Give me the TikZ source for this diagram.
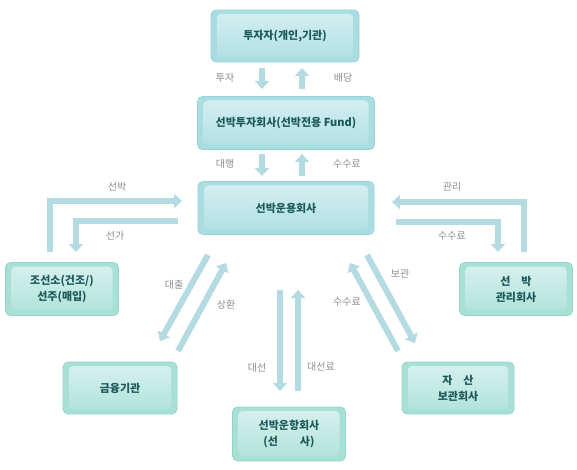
\documentclass[tikz,border=0pt]{standalone}
\usepackage{fontspec}
\setmainfont{Noto Sans CJK KR}
\usetikzlibrary{arrows.meta,calc}
\definecolor{arrowc}{HTML}{B4DAE2}
\definecolor{boxborder}{HTML}{93D5CA}
\definecolor{boxfill}{HTML}{A9E0D6}
\definecolor{boxtop}{HTML}{D9F1EE}
\definecolor{boxbot}{HTML}{AEE2D9}
\definecolor{bboxborder}{HTML}{97D2D8}
\definecolor{bboxfill}{HTML}{AADDE1}
\definecolor{bboxtop}{HTML}{D6EFF1}
\definecolor{bboxbot}{HTML}{AEDFE3}
\definecolor{boxtext}{HTML}{1C5A5A}
\definecolor{lbl}{HTML}{8C8C8C}
\tikzset{
  box/.style={draw=boxborder, line width=0.8pt, fill=boxfill, rounded corners=5pt,
    inner sep=0pt, align=center, text=boxtext, font=\fontsize{11}{16}\selectfont\bfseries,
    path picture={\shade[top color=boxtop, bottom color=boxbot, rounded corners=4pt]
      ([shift={(6pt,-4pt)}]path picture bounding box.north west) rectangle
      ([shift={(-6pt,5pt)}]path picture bounding box.south east);}},
  bbox/.style={box, draw=bboxborder, fill=bboxfill,
    path picture={\shade[top color=bboxtop, bottom color=bboxbot, rounded corners=4pt]
      ([shift={(6pt,-4pt)}]path picture bounding box.north west) rectangle
      ([shift={(-6pt,5pt)}]path picture bounding box.south east);}},
  arr/.style={draw=arrowc, line width=6pt, line join=miter,
    -{Triangle[width=14pt,length=8pt]}},
  lab/.style={text=lbl, font=\fontsize{10}{11}\selectfont, inner sep=0pt}
}
\begin{document}
\begin{tikzpicture}[x=1pt,y=-1pt]
\useasboundingbox (0,0) rectangle (577,470);
% boxes
\node[bbox, minimum width=148pt, minimum height=52pt] (inv) at (285,36) {투자자(개인,기관)};
\node[bbox, minimum width=177pt, minimum height=53pt] (fund) at (286,123) {선박투자회사(선박전용 Fund)};
\node[bbox, minimum width=176pt, minimum height=53pt] (mgr) at (286,208) {선박운용회사};
\node[box, minimum width=113pt, minimum height=53pt] (yard) at (62,289) {조선소(건조/)\\선주(매입)};
\node[box, minimum width=113pt, minimum height=53pt] (smc) at (516,289) {선\quad 박\\관리회사};
\node[box, minimum width=114pt, minimum height=52pt] (bank) at (120,388) {금융기관};
\node[box, minimum width=113pt, minimum height=54pt] (opr) at (289,434) {선박운항회사\\(선\quad\quad 사)};
\node[box, minimum width=112pt, minimum height=52pt] (cust) at (458,388) {자\quad 산\\보관회사};
% coordinates
\coordinate (a1s) at (262,68); \coordinate (a1e) at (262,89);
\coordinate (a2s) at (302,89); \coordinate (a2e) at (302,68);
\coordinate (b1s) at (262,154); \coordinate (b1e) at (262,176);
\coordinate (b2s) at (302,176); \coordinate (b2e) at (302,154);
\coordinate (c1s) at (50,252); \coordinate (c1m) at (50,201); \coordinate (c1e) at (182,201);
\coordinate (c2s) at (178,221); \coordinate (c2m) at (76,221); \coordinate (c2e) at (76,252);
\coordinate (d1s) at (524,252); \coordinate (d1m) at (524,202); \coordinate (d1e) at (392,202);
\coordinate (d2s) at (396,222); \coordinate (d2m) at (498,222); \coordinate (d2e) at (498,252);
\coordinate (e1s) at (208,255); \coordinate (e1e) at (160,341);
\coordinate (e2s) at (178,351); \coordinate (e2e) at (226,263);
\coordinate (f1s) at (280,290); \coordinate (f1e) at (280,391);
\coordinate (f2s) at (298,391); \coordinate (f2e) at (298,290);
\coordinate (g1s) at (367,255); \coordinate (g1e) at (415,343);
\coordinate (g2s) at (398,351); \coordinate (g2e) at (350,263);
% arrows
\draw[arr] (a1s) -- (a1e);
\draw[arr] (a2s) -- (a2e);
\draw[arr] (b1s) -- (b1e);
\draw[arr] (b2s) -- (b2e);
\draw[arr] (c1s) -- (c1m) -- (c1e);
\draw[arr] (c2s) -- (c2m) -- (c2e);
\draw[arr] (d1s) -- (d1m) -- (d1e);
\draw[arr] (d2s) -- (d2m) -- (d2e);
\draw[arr] (e1s) -- (e1e);
\draw[arr] (e2s) -- (e2e);
\draw[arr] (f1s) -- (f1e);
\draw[arr] (f2s) -- (f2e);
\draw[arr] (g1s) -- (g1e);
\draw[arr] (g2s) -- (g2e);
% labels
\node[lab] (l1) at (225,78) {투자};
\node[lab] (l2) at (343,78) {배당};
\node[lab] (l3) at (225,164) {대행};
\node[lab] (l4) at (347,164) {수수료};
\node[lab] (l5) at (117,187) {선박};
\node[lab] (l6) at (115,236) {선가};
\node[lab] (l7) at (452,187) {관리};
\node[lab] (l8) at (452,236) {수수료};
\node[lab] (l9) at (174,285) {대출};
\node[lab] (l10) at (226,305) {상환};
\node[lab] (l11) at (257,368) {대선};
\node[lab] (l12) at (321,367) {대선료};
\node[lab] (l13) at (400,274) {보관};
\node[lab] (l14) at (347,302) {수수료};
\end{tikzpicture}
\end{document}
